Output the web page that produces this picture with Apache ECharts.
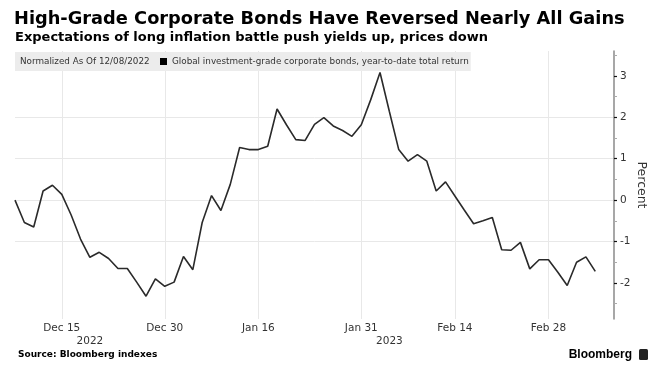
<!DOCTYPE html>
<html>
<head>
<meta charset="utf-8">
<script src="https://cdn.jsdelivr.net/npm/echarts@6/dist/echarts.min.js"></script>
<style>
html,body{margin:0;padding:0;background:#fff;}
#chart{width:661px;height:378px;}
</style>
</head>
<body>
<div id="chart"></div>
<script>
// ---- data ----
const dates = [
 'Dec 8','Dec 9','Dec 12','Dec 13','Dec 14','Dec 15','Dec 16','Dec 19','Dec 20','Dec 21',
 'Dec 22','Dec 23','Dec 26','Dec 27','Dec 28','Dec 29','Dec 30','Jan 3','Jan 4','Jan 5',
 'Jan 6','Jan 9','Jan 10','Jan 11','Jan 12','Jan 13','Jan 16','Jan 17','Jan 18','Jan 19',
 'Jan 20','Jan 23','Jan 24','Jan 25','Jan 26','Jan 27','Jan 30','Jan 31','Feb 1','Feb 2',
 'Feb 3','Feb 6','Feb 7','Feb 8','Feb 9','Feb 10','Feb 13','Feb 14','Feb 15','Feb 16',
 'Feb 17','Feb 20','Feb 21','Feb 22','Feb 23','Feb 24','Feb 27','Feb 28','Mar 1','Mar 2',
 'Mar 3','Mar 6','Mar 7','Mar 8','Mar 9'
];
const totalReturn = [
 0.00,-0.54,-0.65,0.22,0.36,0.14,-0.36,-0.94,-1.38,-1.26,
 -1.41,-1.65,-1.65,-1.98,-2.32,-1.90,-2.08,-1.98,-1.36,-1.68,
 -0.54,0.11,-0.25,0.38,1.27,1.22,1.22,1.30,2.20,1.82,
 1.46,1.44,1.83,1.99,1.79,1.68,1.54,1.82,2.42,3.08,
 2.14,1.22,0.94,1.10,0.94,0.22,0.44,0.10,-0.24,-0.57,
 -0.50,-0.42,-1.20,-1.21,-1.02,-1.66,-1.44,-1.44,-1.74,-2.06,
 -1.50,-1.37,-1.72
];
const xTickDates = ['Dec 15','Dec 30','Jan 16','Jan 31','Feb 14','Feb 28'];
const yearLabelDates = ['Dec 20','Feb 3'];
const yearLabels = ['2022','2023'];
const yTicks = [-2,-1,0,1,2,3];
const yMinorTicks = [-2.5,-1.5,-0.5,0.5,1.5,2.5,3.5];
const seriesName = 'Global investment-grade corporate bonds, year-to-date total return';

const FONT = 'DejaVu Sans';
const chart = echarts.init(document.getElementById('chart'), null, {renderer:'canvas'});
chart.setOption({
  backgroundColor:'#ffffff',
  animation:false,
  title:[
    {text:'High-Grade Corporate Bonds Have Reversed Nearly All Gains', left:14, top:10, padding:0,
     textStyle:{fontFamily:FONT, fontSize:17.8, fontWeight:'bold', color:'#000'}},
    {text:'Expectations of long inflation battle push yields up, prices down', left:15, top:31, padding:0,
     textStyle:{fontFamily:FONT, fontSize:13, fontWeight:'bold', color:'#000'}},
    {text:'Normalized As Of 12/08/2022', left:20, top:57, padding:0,
     textStyle:{fontFamily:FONT, fontSize:8.8, fontWeight:'normal', color:'#333'}},
    {text:'Source: Bloomberg indexes', left:18, top:350, padding:0,
     textStyle:{fontFamily:FONT, fontSize:9, fontWeight:'bold', color:'#000'}},
    {text:'Bloomberg', right:29, top:349, padding:0,
     textStyle:{fontFamily:'Liberation Sans', fontSize:12, fontWeight:'bold', color:'#000'}}
  ],
  legend:{
    left:15, top:52, padding:[5,2,5,145], backgroundColor:'#ececec',
    itemWidth:7, itemHeight:7, icon:'rect', selectedMode:false,
    textStyle:{fontFamily:FONT, fontSize:8.8, color:'#333'},
    data:[{name:seriesName, itemStyle:{color:'#000'}}]
  },
  graphic:[
    {type:'rect', right:13, top:349, shape:{width:9, height:11, r:1.5}, style:{fill:'#222'}}
  ],
  grid:{left:15, right:47, top:51, bottom:59},
  xAxis:[
    {type:'category', data:dates, boundaryGap:false,
     axisLine:{show:false}, axisTick:{show:false},
     axisLabel:{interval:(i,v)=>xTickDates.includes(v), margin:4, color:'#333', fontFamily:FONT, fontSize:10.5},
     splitLine:{show:true, interval:(i,v)=>xTickDates.includes(v), lineStyle:{color:'#e8e8e8', width:1}}},
    {type:'category', data:dates, boundaryGap:false, position:'bottom', offset:13,
     axisLine:{show:false}, axisTick:{show:false}, splitLine:{show:false},
     axisLabel:{interval:(i,v)=>yearLabelDates.includes(v),
       formatter:(v)=>yearLabels[yearLabelDates.indexOf(v)] || '',
       margin:4, color:'#333', fontFamily:FONT, fontSize:10.5}}
  ],
  yAxis:[
    {type:'value', position:'right', min:-2.87, max:3.6,
     name:'Percent', nameLocation:'middle', nameRotate:-90, nameGap:21, nameMoveOverlap:false,
     nameTextStyle:{fontFamily:FONT, fontSize:12.5, color:'#333'},
     axisLine:{show:true, lineStyle:{color:'#8a8a8a', width:1.5}},
     axisTick:{show:true, customValues:yTicks, length:3, lineStyle:{color:'#111', width:1.2}},
     axisLabel:{customValues:yTicks, margin:6, color:'#333', fontFamily:FONT, fontSize:10.5,
       formatter:(v)=>String(v)},
     splitLine:{show:true, showMinLine:false, showMaxLine:false, lineStyle:{color:'#e8e8e8', width:1}}},
    {type:'value', position:'right', min:-2.87, max:3.6,
     axisLine:{show:false},
     axisTick:{show:true, customValues:yMinorTicks, length:3, lineStyle:{color:'#aaa', width:1}},
     axisLabel:{show:false}, splitLine:{show:false}}
  ],
  series:[
    {name:seriesName, type:'line', data:totalReturn, xAxisIndex:0, yAxisIndex:0,
     showSymbol:false, symbol:'none', lineStyle:{color:'#2a2a2a', width:1.6}, itemStyle:{color:'#000'},
     z:5}
  ]
});
</script>
</body>
</html>
